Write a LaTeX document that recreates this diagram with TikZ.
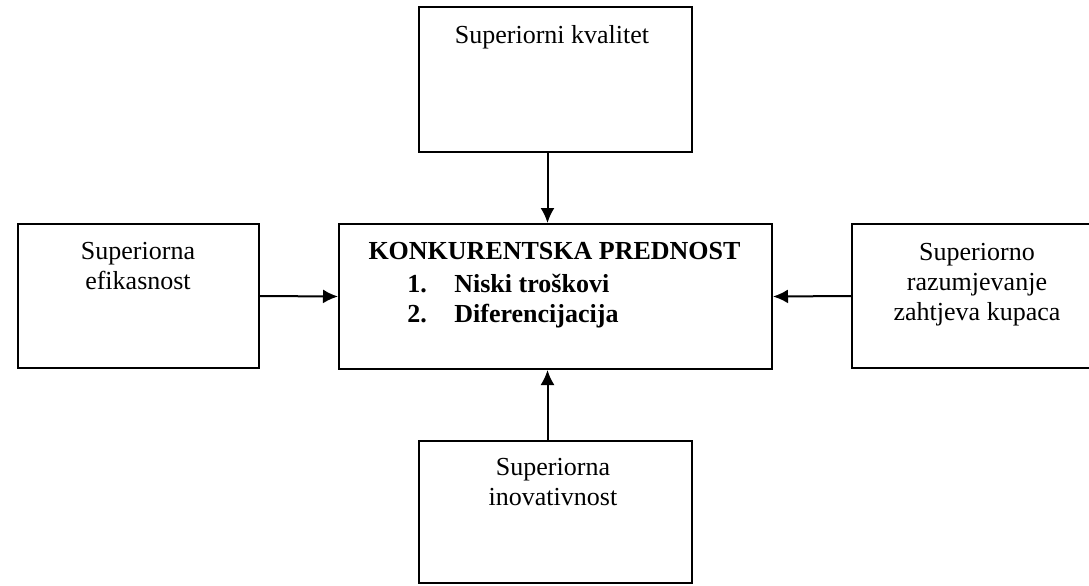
\documentclass[tikz,border=0pt]{standalone}
\usepackage{fontspec}
\setmainfont{Liberation Serif}
\usetikzlibrary{arrows.meta,calc}

\tikzset{
  okvir/.style={draw, line width=1pt, inner sep=0pt},
  tekst/.style={font=\fontsize{13}{15}\selectfont, align=center, inner sep=0pt, anchor=base},
  strelica/.style={line width=1pt, -{Latex[length=7.5pt,width=7pt]}}
}

\begin{document}
\begin{tikzpicture}[x=0.5pt,y=-0.5pt]
\useasboundingbox (0,0) rectangle (1089,585);
\clip (0,0) rectangle (1089,585);

% okviri
\node[okvir, minimum width=136.5pt, minimum height=72.5pt] (kvalitet) at (555.5,79.5) {};
\node[okvir, minimum width=120.5pt, minimum height=72pt] (efikasnost) at (138.5,296) {};
\node[okvir, minimum width=216.5pt, minimum height=72.5pt] (prednost) at (555.5,296.5) {};
\node[okvir, minimum width=125pt, minimum height=72pt] (kupci) at (977,296) {};
\node[okvir, minimum width=136.5pt, minimum height=71pt] (inovacije) at (555.5,512) {};

% tekstovi (base = zadnji redak)
\node[tekst] (kvalitetT) at (552,43) {Superiorni kvalitet};
\node[tekst] (efikasnostT) at (138,289) {Superiorna\\efikasnost};
\node[tekst] (kupciT) at (977,320) {Superiorno\\razumjevanje\\zahtjeva kupaca};
\node[tekst] (inovacijeT) at (553,505) {Superiorna\\inovativnost};
\node[tekst, font=\fontsize{13}{15}\selectfont\bfseries] (naslov) at (554.5,259) {KONKURENTSKA PREDNOST};
\node[tekst, font=\fontsize{13}{15}\selectfont\bfseries, align=left, anchor=base west] (stavke) at (407,322)
  {\makebox[23.5pt][l]{1.}Niski troškovi\\\makebox[23.5pt][l]{2.}Diferencijacija};

% strelice
\draw[strelica] ([xshift=-4pt]kvalitet.south) -- ([xshift=-4pt]prednost.north);
\draw[strelica] (efikasnost.east) -- (prednost.west);
\draw[strelica] (kupci.west) -- (prednost.east);
\draw[strelica] ([xshift=-4pt]inovacije.north) -- ([xshift=-4pt]prednost.south);
\end{tikzpicture}
\end{document}
